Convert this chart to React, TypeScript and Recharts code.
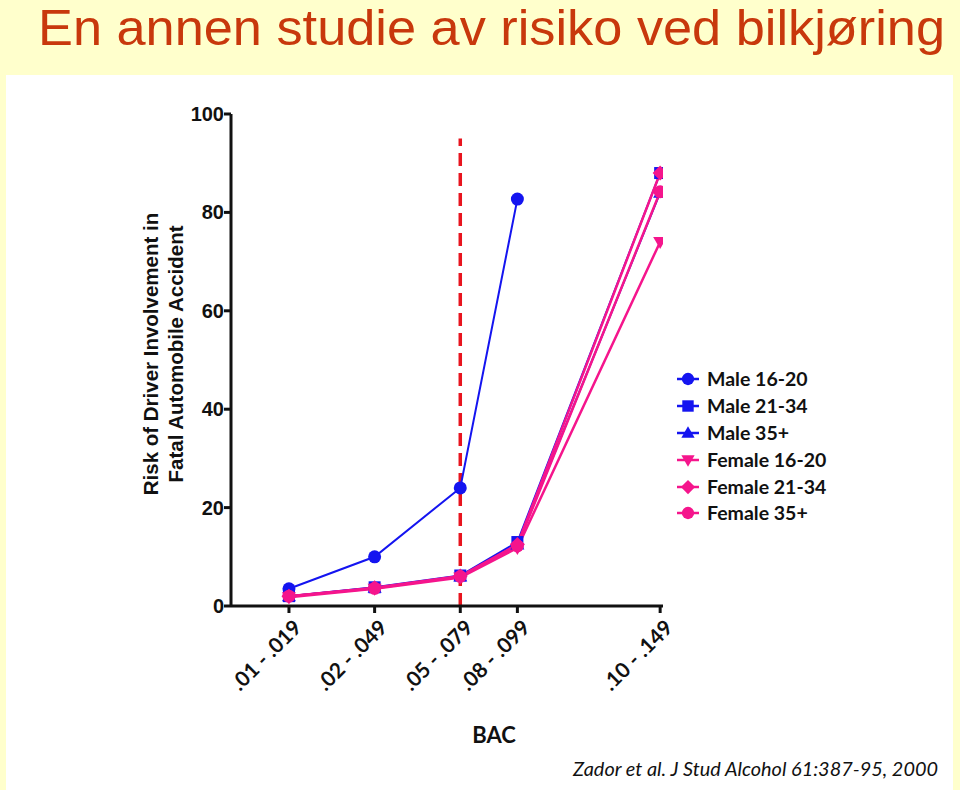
import React from 'react';
import { LineChart, Line, XAxis, YAxis, ReferenceLine, Legend } from 'recharts';

// ---- data ----
const bacLabels = ['.01 - .019', '.02 - .049', '.05 - .079', '.08 - .099', '.10 - .149'];
const bacUpper = [0.019, 0.049, 0.079, 0.099, 0.149];
const male1620 = [3.5, 10, 24, 82.7, null];
const male2134 = [2.0, 3.8, 6.2, 13.0, 88];
const male35 = [2.0, 3.7, 6.0, 12.5, 84];
const female1620 = [1.8, 3.5, 5.8, 11.8, 74];
const female2134 = [2.0, 3.7, 6.1, 12.5, 88];
const female35 = [2.0, 3.6, 6.0, 12.2, 84.2];
const yTicks = [0, 20, 40, 60, 80, 100];
const legalLimit = 0.079;
const limitTop = 95;

const BLUE = '#1414F0';
const PINK = '#F5158C';

const SERIES = [
  { key: 'm1620', name: 'Male 16-20', color: BLUE, shape: 'circle', values: male1620 },
  { key: 'm2134', name: 'Male 21-34', color: BLUE, shape: 'square', values: male2134 },
  { key: 'm35', name: 'Male 35+', color: BLUE, shape: 'triangle', values: male35 },
  { key: 'f1620', name: 'Female 16-20', color: PINK, shape: 'triangleDown', values: female1620 },
  { key: 'f2134', name: 'Female 21-34', color: PINK, shape: 'diamond', values: female2134 },
  { key: 'f35', name: 'Female 35+', color: PINK, shape: 'circle', values: female35 },
];

const data = bacUpper.map((x, i) => {
  const row: any = { x, label: bacLabels[i] };
  SERIES.forEach((s) => {
    row[s.key] = s.values[i];
  });
  return row;
});

const labelFor = (v: number) => {
  const i = bacUpper.indexOf(v);
  return i >= 0 ? bacLabels[i] : '';
};

function Marker({ cx, cy, shape, color, size = 1 }: any) {
  if (cx == null || cy == null || isNaN(cx) || isNaN(cy)) return null;
  const s = size;
  switch (shape) {
    case 'circle':
      return <circle cx={cx} cy={cy} r={6.5 * s} fill={color} />;
    case 'square':
      return <rect x={cx - 6 * s} y={cy - 6 * s} width={12 * s} height={12 * s} fill={color} />;
    case 'triangle':
      return (
        <polygon
          points={`${cx},${cy - 7 * s} ${cx + 7 * s},${cy + 5 * s} ${cx - 7 * s},${cy + 5 * s}`}
          fill={color}
        />
      );
    case 'triangleDown':
      return (
        <polygon
          points={`${cx},${cy + 7 * s} ${cx + 7 * s},${cy - 5 * s} ${cx - 7 * s},${cy - 5 * s}`}
          fill={color}
        />
      );
    case 'diamond':
      return (
        <polygon
          points={`${cx},${cy - 7.5 * s} ${cx + 7.5 * s},${cy} ${cx},${cy + 7.5 * s} ${cx - 7.5 * s},${cy}`}
          fill={color}
        />
      );
    default:
      return null;
  }
}

function XTick(props: any) {
  const { x, y, payload } = props;
  return (
    <g transform={`translate(${x + 14},${y + 14})`}>
      <text
        x={0}
        y={0}
        transform="rotate(-45)"
        textAnchor="end"
        fontFamily="Lato, 'Open Sans', sans-serif"
        fontWeight={700}
        fontSize={21}
        fill="#111"
      >
        {labelFor(payload.value)}
      </text>
    </g>
  );
}

function YTick(props: any) {
  const { x, y, payload } = props;
  return (
    <text
      x={x + 1}
      y={y + 7}
      textAnchor="end"
      fontFamily="'Liberation Sans', Arial, sans-serif"
      fontWeight={700}
      fontSize={20}
      fill="#111"
    >
      {payload.value}
    </text>
  );
}

function YLabel() {
  return (
    <g transform="translate(163,354) rotate(-90)">
      <text
        x={0}
        y={-5}
        textAnchor="middle"
        fontFamily="'Liberation Sans', Arial, sans-serif"
        fontWeight={700}
        fontSize={20.5}
        fill="#111"
      >
        Risk of Driver Involvement in
      </text>
      <text
        x={0}
        y={20}
        textAnchor="middle"
        fontFamily="'Liberation Sans', Arial, sans-serif"
        fontWeight={700}
        fontSize={20.5}
        fill="#111"
      >
        Fatal Automobile Accident
      </text>
    </g>
  );
}

function XLabel() {
  return (
    <text
      x={494}
      y={743}
      textAnchor="middle"
      fontFamily="Lato, 'Open Sans', sans-serif"
      fontWeight={700}
      fontSize={22}
      fill="#111"
    >
      BAC
    </text>
  );
}

function LegendContent() {
  return (
    <div style={{ width: 220, height: 0, overflow: 'visible' }}>
      {SERIES.map((s) => (
        <div key={s.key} style={{ display: 'flex', alignItems: 'center', height: 26.8 }}>
          <svg width={30} height={20} style={{ display: 'block', flex: 'none' }}>
            <line x1={0} y1={10} x2={22} y2={10} stroke={s.color} strokeWidth={2.5} />
            <Marker cx={11} cy={10} shape={s.shape} color={s.color} size={0.95} />
          </svg>
          <span
            style={{
              fontFamily: "Lato, 'Open Sans', sans-serif",
              fontWeight: 700,
              fontSize: 19.5,
              color: '#111',
              lineHeight: '20px',
              whiteSpace: 'nowrap',
            }}
          >
            {s.name}
          </span>
        </div>
      ))}
    </div>
  );
}

export default function App() {
  return (
    <div
      style={{
        position: 'absolute',
        left: 0,
        top: 0,
        width: 960,
        height: 790,
        background: '#FFFFCC',
        overflow: 'hidden',
      }}
    >
      <svg width={960} height={75} style={{ position: 'absolute', left: 0, top: 0 }}>
        <text
          x={38}
          y={45}
          textLength={907}
          lengthAdjust="spacingAndGlyphs"
          fontFamily="'Liberation Sans', Arial, sans-serif"
          fontSize={50}
          fill="#C8380C"
        >
          En annen studie av risiko ved bilkjøring
        </text>
      </svg>
      <div
        style={{ position: 'absolute', left: 6, top: 75, width: 947, height: 715, background: '#FFFFFF' }}
      />
      <div style={{ position: 'absolute', left: 0, top: 0 }}>
        <LineChart
          width={960}
          height={790}
          data={data}
          margin={{ top: 114, right: 297, bottom: 124, left: 171 }}
        >
          <XAxis
            dataKey="x"
            type="number"
            domain={[-0.0013, 0.15]}
            ticks={bacUpper}
            tick={<XTick />}
            tickSize={7}
            tickMargin={2}
            height={60}
            axisLine={{ stroke: '#111', strokeWidth: 3 }}
            tickLine={{ stroke: '#111', strokeWidth: 3 }}
            interval={0}
            allowDataOverflow
            label={{ content: () => <XLabel /> }}
          />
          <YAxis
            type="number"
            domain={[0, 100]}
            ticks={yTicks}
            tick={<YTick />}
            tickSize={7}
            tickMargin={1}
            width={60}
            axisLine={{ stroke: '#111', strokeWidth: 3 }}
            tickLine={{ stroke: '#111', strokeWidth: 3 }}
            interval={0}
            label={{ content: () => <YLabel /> }}
          />
          <ReferenceLine
            segment={[
              { x: legalLimit, y: 0 },
              { x: legalLimit, y: limitTop },
            ]}
            stroke="#E8141E"
            strokeWidth={3.5}
            strokeDasharray="13 7"
          />
          {SERIES.map((s) => (
            <Line
              key={s.key}
              dataKey={s.key}
              name={s.name}
              type="linear"
              stroke={s.color}
              strokeWidth={s.color === PINK ? 2.5 : 2}
              isAnimationActive={false}
              connectNulls={false}
              dot={(p: any) => (
                <Marker key={`${s.key}-${p.index}`} cx={p.cx} cy={p.cy} shape={s.shape} color={s.color} />
              )}
              activeDot={false}
            />
          ))}
          <Legend
            content={() => <LegendContent />}
            wrapperStyle={{ position: 'absolute', left: 677, top: 366, width: 220, height: 0 }}
          />
        </LineChart>
      </div>
      <svg width={960} height={790} style={{ position: 'absolute', left: 0, top: 0, pointerEvents: 'none' }}>
        <text
          x={573}
          y={776}
          textLength={365}
          lengthAdjust="spacingAndGlyphs"
          fontFamily="Lato, 'Open Sans', sans-serif"
          fontStyle="italic"
          fontSize={19}
          fill="#111"
        >
          Zador et al. J Stud Alcohol 61:387-95, 2000
        </text>
      </svg>
    </div>
  );
}
